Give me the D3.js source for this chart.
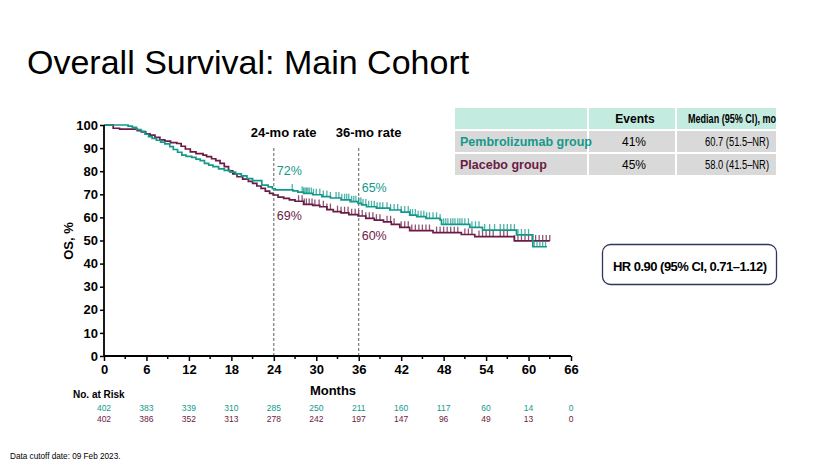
<!DOCTYPE html>
<html><head><meta charset="utf-8">
<script src="https://cdn.jsdelivr.net/npm/d3@7"></script>
<style>
html,body{margin:0;padding:0;background:#fff;}
svg{display:block;font-family:"Liberation Sans",Arial,sans-serif;}
</style></head><body>
<svg id="chart" width="831" height="468"></svg>
<script>
// ---- data ----
const xTicks = [0,6,12,18,24,30,36,42,48,54,60,66];
const yTicks = [0,10,20,30,40,50,60,70,80,90,100];
const pembroTimes = [0,3.4,4.0,4.6,5.2,5.8,6.3,6.8,7.4,8.0,8.6,9.3,9.8,10.4,11.0,11.6,12.4,13.0,13.6,14.2,14.8,15.4,16.2,17.0,17.8,18.6,19.4,20.2,21.0,22.3,23.2,23.8,24.2,26.7,27.4,28.2,29.5,30.8,32.0,33.5,34.8,35.9,36.4,37.1,38.5,40.4,42.0,43.2,44.2,45.5,47.5,47.7,51.7,53.5,58.3,60.6,62.6];
const pembroSurv  = [100,99.5,99,98,97.2,96,95,94.2,93.4,92.6,91.8,90.6,89.4,88.2,87,86.4,86,85.2,84.6,83.4,82.6,82.0,81.0,80.4,79.6,78.8,78.0,76.8,75.9,74.0,73.2,72.4,71.9,71.5,70.9,70.4,69.8,69.0,68.4,67.6,66.8,66.1,65.4,64.6,64.0,63.2,62.3,61.0,60.3,59.6,58.9,57.0,55.7,54.5,52.4,47.3,47.3];
const placeboTimes = [0,1.3,2.2,4.7,5.3,5.9,6.5,7.2,7.9,8.6,9.4,10.3,10.9,11.5,12.2,13.0,14.0,14.5,15.2,15.8,16.4,17.0,17.6,18.2,18.8,19.6,20.4,21.0,21.6,22.2,22.8,23.4,23.9,24.6,25.4,26.2,27.0,28.2,29.5,30.5,31.5,32.4,33.5,34.6,35.9,37.0,38.2,39.5,40.6,41.8,43.2,46.5,50.5,52.4,58.0,63.0];
const placeboSurv  = [100,98.6,98.2,97.6,97,96.2,95.6,94.6,93.6,93,92.4,92,90.8,89.6,88.4,87.6,87,86.3,85.4,84.6,83.4,82,80.2,78.8,77.6,76.6,75.6,74.7,73.6,72.6,71.4,70.4,69.7,68.8,68.2,67.6,67,65.6,65.2,64.6,63.4,62.5,62.0,61.2,60.6,59.6,58.8,58.1,57,55.7,54.3,53.4,52.6,51.7,49.8,49.8];
const pembroCensor = [26.6,28.0,28.2,28.4,28.6,28.8,29.0,29.3,29.6,30.0,30.5,31.0,31.5,32.0,32.8,33.2,33.6,34.0,34.3,34.6,35.0,35.3,35.6,36.0,36.3,36.6,37.0,37.4,37.8,38.2,38.6,39.0,39.4,40.0,40.5,41.0,41.5,42.0,42.5,43.0,43.3,43.6,44.0,44.4,44.8,45.2,45.6,46.0,46.5,47.0,47.5,48.0,48.3,48.6,49.0,49.3,49.6,50.0,50.3,50.6,51.0,51.5,52.0,52.5,53.0,53.8,54.5,55.2,56.0,56.5,57.0,57.5,58.0,58.5,59.0,59.5,60.0,60.8,61.2,61.6,62.0,62.4];
const placeboCensor = [27.5,28.0,28.3,28.6,29.0,29.4,29.8,30.4,31.0,31.5,32.0,33.0,33.5,34.0,34.5,35.0,35.5,36.0,36.5,37.0,37.5,38.0,38.5,39.0,40.0,40.5,41.0,42.0,42.5,43.0,43.5,44.0,44.5,45.0,45.5,46.0,47.0,47.5,48.0,48.5,49.0,49.5,50.0,51.0,51.5,52.0,53.0,53.5,54.0,54.5,55.0,56.0,56.5,57.0,58.0,58.5,59.0,59.5,60.0,60.5,61.0,61.5,62.0,62.5,63.0];
const riskPembro  = [402,383,339,310,285,250,211,160,117,60,14,0];
const riskPlacebo = [402,386,352,313,278,242,197,147,96,49,13,0];
const rateMonths = [24,36];
const rateLabels = ["24-mo rate","36-mo rate"];
const pembroRates = ["72%","65%"];
const placeboRates = ["69%","60%"];
const groupNames = ["Pembrolizumab group","Placebo group"];
const tableHeaders = ["Events","Median (95% CI), mo"];
const events = ["41%","45%"];
const medians = ["60.7 (51.5\u2013NR)","58.0 (41.5\u2013NR)"];
const hrText = "HR 0.90 (95% CI, 0.71\u20131.12)";

// ---- drawing ----
const TEAL = "#13998B", MAROON = "#6B1B45";
const svg = d3.select("#chart");
const x = d3.scaleLinear().domain([0,66]).range([104,571]);
const y = d3.scaleLinear().domain([0,100]).range([356,125]);

svg.append("text").attr("x",27).attr("y",74).attr("font-size",34).attr("fill","#000")
  .text("Overall Survival: Main Cohort");

// dashed rate lines
rateMonths.forEach((m,i)=>{
  svg.append("line").attr("x1",x(m)).attr("x2",x(m)).attr("y1",148).attr("y2",356)
    .attr("stroke","#333").attr("stroke-width",0.8).attr("stroke-dasharray","3,2");
  svg.append("text").attr("x",x(m)-23).attr("y",137).attr("font-size",13)
    .attr("font-weight","bold").text(rateLabels[i]);
});

function stepFn(times,surv){
  return t => { let v = surv[0]; for(let i=0;i<times.length;i++){ if(times[i]<=t) v=surv[i]; } return v; };
}
const line = d3.line().x(d=>x(d[0])).y(d=>y(d[1])).curve(d3.curveStepAfter);
function drawCurve(times,surv,censor,color){
  const pts = times.map((t,i)=>[t,surv[i]]);
  svg.append("path").attr("d",line(pts)).attr("fill","none").attr("stroke",color).attr("stroke-width",1.7);
  const f = stepFn(times,surv);
  svg.append("g").selectAll("line").data(censor).join("line")
    .attr("x1",d=>x(d)).attr("x2",d=>x(d))
    .attr("y1",d=>y(f(d))-6).attr("y2",d=>y(f(d)))
    .attr("stroke",color).attr("stroke-width",1.3).attr("opacity",0.75);
}
drawCurve(placeboTimes,placeboSurv,placeboCensor,MAROON);
drawCurve(pembroTimes,pembroSurv,pembroCensor,TEAL);

// rate labels
const pembroLabelY = [175,192], placeboLabelY = [220,240];
rateMonths.forEach((m,i)=>{
  svg.append("text").attr("x",x(m)+3).attr("y",pembroLabelY[i]).attr("font-size",12.5).attr("fill",TEAL).text(pembroRates[i]);
  svg.append("text").attr("x",x(m)+3).attr("y",placeboLabelY[i]).attr("font-size",12.5).attr("fill",MAROON).text(placeboRates[i]);
});

// axes
const xAxis = svg.append("g").attr("transform","translate(0,356)")
  .call(d3.axisBottom(x).tickValues(xTicks).tickSize(5).tickPadding(4).tickFormat(d3.format("d")));
const minor = d3.range(3,66,6);
svg.append("g").selectAll("line").data(minor).join("line")
  .attr("x1",d=>x(d)).attr("x2",d=>x(d)).attr("y1",356).attr("y2",359).attr("stroke","#000").attr("stroke-width",1.5);
const yAxis = svg.append("g").attr("transform","translate(104,0)")
  .call(d3.axisLeft(y).tickValues(yTicks).tickSize(4).tickPadding(2).tickFormat(d3.format("d")));
[xAxis,yAxis].forEach(g=>{
  g.select(".domain").attr("stroke","#000").attr("stroke-width",1.8);
  g.selectAll(".tick line").attr("stroke","#000").attr("stroke-width",1.5);
  g.selectAll(".tick text").attr("font-size",13).attr("font-weight","bold").attr("fill","#000")
    .attr("font-family","Liberation Sans, Arial, sans-serif");
});
xAxis.select(".domain").attr("d","M104,0H571");
yAxis.select(".domain").attr("d","M0,125V356");

svg.append("text").attr("x",333).attr("y",395).attr("text-anchor","middle").attr("font-size",13)
  .attr("font-weight","bold").text("Months");
svg.append("text").attr("transform","translate(73,241) rotate(-90)").attr("text-anchor","middle")
  .attr("font-size",13).attr("font-weight","bold").text("OS, %");

// risk table
svg.append("text").attr("x",73).attr("y",398).attr("font-size",10).attr("font-weight","bold").text("No. at Risk");
svg.append("g").selectAll("text").data(riskPembro).join("text")
  .attr("x",(d,i)=>x(xTicks[i])).attr("y",411).attr("text-anchor","middle").attr("font-size",8.5).attr("fill",TEAL).text(d=>d);
svg.append("g").selectAll("text").data(riskPlacebo).join("text")
  .attr("x",(d,i)=>x(xTicks[i])).attr("y",422).attr("text-anchor","middle").attr("font-size",8.5).attr("fill",MAROON).text(d=>d);

// summary table
const cols = [[455,587],[589,675],[677,776]];
const rows = [[108,129],[131,152],[154,175]];
rows.forEach((r,ri)=>{
  cols.forEach(c=>{
    svg.append("rect").attr("x",c[0]).attr("y",r[0]).attr("width",c[1]-c[0]).attr("height",r[1]-r[0])
      .attr("fill", ri===0 ? "#C4EBDF" : "#D9D9D9");
  });
});
svg.append("text").attr("x",(cols[1][0]+cols[1][1])/2+3).attr("y",123).attr("text-anchor","middle")
  .attr("font-size",12).attr("font-weight","bold").text(tableHeaders[0]);
svg.append("text").attr("x",688).attr("y",123).attr("font-size",12).attr("font-weight","bold")
  .attr("textLength",88).attr("lengthAdjust","spacingAndGlyphs").text(tableHeaders[1]);
const groupColors = [TEAL,MAROON];
groupNames.forEach((g,i)=>{
  const by = rows[i+1][0]+15;
  svg.append("text").attr("x",460).attr("y",by).attr("font-size",12.5).attr("font-weight","bold")
    .attr("fill",groupColors[i]).text(g);
  svg.append("text").attr("x",(cols[1][0]+cols[1][1])/2+2).attr("y",by).attr("text-anchor","middle")
    .attr("font-size",12).text(events[i]);
  svg.append("text").attr("x",705).attr("y",by).attr("font-size",12)
    .attr("textLength",64).attr("lengthAdjust","spacingAndGlyphs").text(medians[i]);
});

// HR box
svg.append("rect").attr("x",602.5).attr("y",244.5).attr("width",174).attr("height",40).attr("rx",8)
  .attr("fill","#fff").attr("stroke","#2E3560").attr("stroke-width",1.3);
svg.append("text").attr("x",613).attr("y",271).attr("font-size",13).attr("font-weight","bold")
  .attr("textLength",154).attr("lengthAdjust","spacing").text(hrText);

svg.append("text").attr("x",10).attr("y",459).attr("font-size",8.2).text("Data cutoff date: 09 Feb 2023.");
</script>
</body></html>
